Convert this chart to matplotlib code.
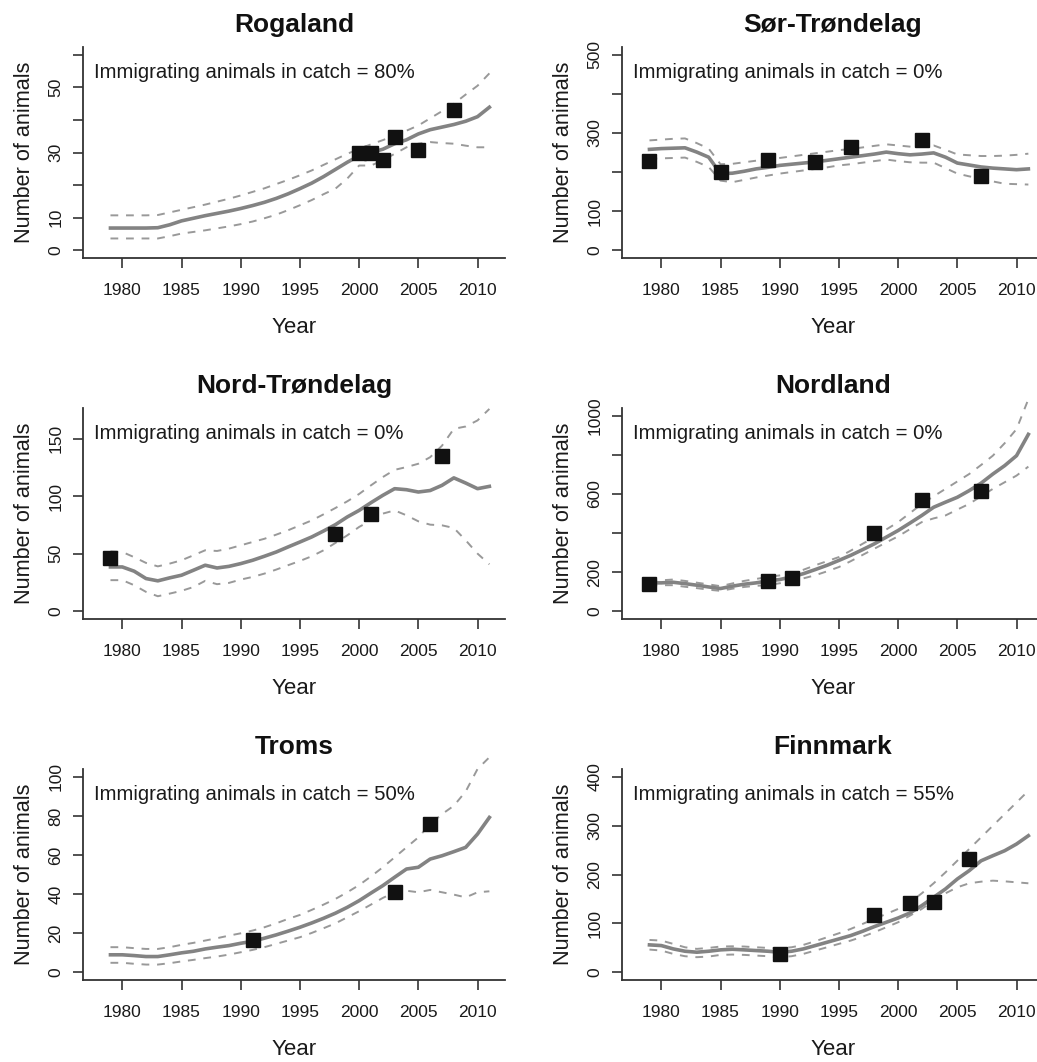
import matplotlib
matplotlib.use("Agg")
import matplotlib.pyplot as plt
import numpy as np

plt.rcParams['font.family'] = ['Liberation Sans', 'DejaVu Sans']

years = list(range(1979, 2012))

# ---------------- Rogaland ----------------
rog_mid = [6.8, 6.8, 6.8, 6.8, 6.9, 7.8, 9.0, 9.8, 10.6, 11.3, 12.0, 12.8, 13.7, 14.7, 15.9, 17.3, 18.9,
           20.6, 22.6, 24.8, 27.0, 29.0, 30.0, 31.0, 32.7, 33.9, 35.7, 37.0, 37.8, 38.6, 39.6, 41.0, 43.9]
rog_lo = [3.6, 3.6, 3.6, 3.6, 3.6, 4.3, 5.1, 5.6, 6.1, 6.7, 7.3, 8.0, 8.8, 9.8, 10.9, 12.3, 13.8,
          15.4, 17.2, 18.9, 22.0, 26.0, 26.0, 27.6, 29.6, 31.6, 32.7, 33.2, 32.9, 32.7, 32.1, 31.6, 31.6]
rog_hi = [10.7, 10.7, 10.7, 10.7, 10.8, 11.6, 12.4, 13.2, 14.0, 14.9, 15.8, 16.8, 17.9, 19.0, 20.3, 21.6, 23.0,
          24.5, 26.2, 27.9, 29.6, 31.1, 32.5, 33.8, 35.2, 36.7, 38.3, 40.5, 42.7, 45.0, 47.8, 50.5, 54.3]
rog_obs_years = [2000, 2001, 2002, 2003, 2005, 2008]
rog_obs = [30.0, 30.0, 27.8, 34.9, 30.8, 43.0]

# ---------------- Sør-Trøndelag ----------------
sor_mid = [258, 260, 261, 262, 251, 238, 196, 197, 202, 208, 212, 217, 220, 223, 226, 230, 234,
           238, 242, 246, 251, 247, 244, 246, 249, 238, 223, 218, 213, 210, 208, 206, 208]
sor_lo = [234, 235, 236, 237, 226, 213, 178, 174, 180, 186, 191, 196, 200, 204, 208, 212, 217,
          220, 224, 228, 232, 228, 225, 224, 224, 210, 196, 189, 183, 176, 170, 169, 168]
sor_hi = [281, 283, 285, 286, 274, 260, 220, 221, 225, 229, 232, 236, 240, 244, 248, 252, 256,
          259, 263, 267, 271, 268, 265, 264, 268, 257, 245, 243, 241, 241, 242, 244, 247]
sor_obs_years = [1979, 1985, 1989, 1993, 1996, 2002, 2007]
sor_obs = [227, 200, 230, 226, 264, 283, 190]

# ---------------- Nord-Trøndelag ----------------
nt_mid = [38.5, 38.5, 34.8, 28.4, 26.4, 29.0, 31.3, 35.6, 40.0, 37.6, 39.0, 41.4, 44.3, 47.8, 51.5, 55.9, 60.2,
          64.6, 69.8, 75.3, 82.0, 87.7, 94.4, 100.8, 106.6, 105.7, 103.7, 105.0, 109.5, 116.0, 111.5, 106.6, 108.6]
nt_lo = [27.0, 27.0, 22.6, 16.8, 13.0, 15.3, 17.7, 21.0, 26.4, 23.5, 24.6, 27.5, 29.8, 32.7, 36.2, 40.0, 43.7,
         47.8, 53.0, 59.4, 66.0, 73.3, 79.0, 84.9, 87.7, 83.4, 78.2, 75.3, 74.7, 72.4, 61.7, 50.1, 40.8]
nt_hi = [52.0, 51.5, 47.0, 42.0, 39.0, 41.4, 44.3, 48.6, 53.0, 52.4, 54.4, 57.3, 60.2, 63.0, 66.6, 70.4, 74.7,
         79.0, 84.3, 89.8, 95.6, 102.0, 109.5, 116.7, 123.0, 125.4, 128.3, 134.0, 144.0, 158.7, 160.7, 166.0, 176.0]
nt_obs_years = [1979, 1998, 2001, 2007]
nt_obs = [46.6, 66.9, 84.3, 134.7]

# ---------------- Nordland ----------------
nl_mid = [145, 145, 148, 141, 133, 124, 116, 128, 138, 145, 155, 162, 175, 192, 213, 235, 260,
          286, 315, 345, 379, 413, 451, 490, 532, 558, 583, 617, 655, 702, 745, 796, 905]
nl_lo = [133, 133, 133, 125, 118, 110, 104, 115, 124, 130, 133, 143, 155, 168, 184, 204, 226,
         256, 288, 320, 352, 383, 420, 456, 475, 490, 520, 549, 588, 626, 660, 694, 740]
nl_hi = [155, 158, 162, 155, 146, 137, 128, 142, 155, 165, 175, 183, 192, 212, 235, 256, 277,
         310, 345, 379, 418, 456, 502, 549, 588, 626, 664, 702, 748, 796, 860, 932, 1085]
nl_obs_years = [1979, 1989, 1991, 1998, 2002, 2007]
nl_obs = [138, 155, 170, 400, 571, 617]

# ---------------- Troms ----------------
tr_mid = [8.9, 8.9, 8.5, 8.0, 8.0, 8.9, 9.9, 10.7, 11.9, 12.8, 13.6, 14.8, 15.8, 17.4, 19.1, 21.0, 23.0,
          25.2, 27.6, 30.2, 33.2, 36.6, 40.5, 44.3, 48.6, 52.8, 53.7, 57.9, 59.6, 61.7, 63.9, 70.7, 79.2]
tr_lo = [4.8, 4.8, 4.3, 3.9, 3.9, 4.6, 5.5, 6.3, 7.2, 8.0, 9.0, 10.2, 11.4, 12.8, 14.5, 16.2, 17.9,
         20.1, 22.5, 25.0, 28.1, 31.2, 34.6, 38.0, 40.9, 41.7, 40.9, 42.1, 40.9, 39.7, 38.3, 40.9, 41.4]
tr_hi = [12.8, 12.8, 12.3, 11.9, 11.9, 12.8, 14.0, 15.0, 16.2, 17.4, 18.7, 19.9, 21.3, 23.0, 25.0, 27.3, 29.3,
         31.9, 34.6, 37.5, 40.9, 44.6, 49.0, 53.7, 58.8, 63.9, 69.0, 75.8, 80.9, 85.2, 92.5, 104.0, 110.0]
tr_obs_years = [1991, 2003, 2006]
tr_obs = [16.7, 40.9, 75.8]

# ---------------- Finnmark ----------------
fm_mid = [55.9, 54.5, 47.7, 42.9, 40.9, 42.9, 45.7, 47.0, 45.7, 44.3, 42.9, 40.9, 42.9, 47.7, 54.5, 61.3, 68.1,
          75.0, 83.8, 93.4, 102.2, 111.0, 121.3, 136.3, 153.3, 170.4, 190.8, 207.8, 228.0, 238.5, 248.7, 262.4, 279.4]
fm_lo = [46.3, 44.3, 37.5, 32.7, 30.7, 32.0, 35.4, 36.1, 35.4, 34.0, 32.7, 30.7, 32.7, 37.5, 44.3, 51.0, 58.0,
         64.7, 72.9, 81.8, 92.0, 102.2, 115.8, 129.5, 146.5, 161.5, 173.8, 182.0, 185.3, 187.4, 186.0, 184.0, 182.0]
fm_hi = [66.0, 64.7, 58.0, 51.0, 47.7, 49.7, 52.5, 53.0, 52.5, 51.0, 49.7, 49.0, 51.0, 55.9, 63.4, 71.5, 79.7,
         88.6, 98.8, 109.0, 119.3, 129.5, 143.0, 161.5, 182.0, 204.4, 228.3, 252.1, 276.0, 300.0, 323.7, 347.5, 371.4]
fm_obs_years = [1990, 1998, 2001, 2003, 2006]
fm_obs = [37.5, 117.9, 141.0, 143.0, 231.7]

titles = ["Rogaland", "Sør-Trøndelag", "Nord-Trøndelag", "Nordland", "Troms", "Finnmark"]
immig = ["80%", "0%", "0%", "0%", "50%", "55%"]
ylims = [(0, 60), (0, 500), (0, 170), (0, 1000), (0, 100), (0, 400)]
yticks = [[0, 10, 20, 30, 40, 50, 60], [0, 100, 200, 300, 400, 500], [0, 50, 100, 150],
          [0, 200, 400, 600, 800, 1000], [0, 20, 40, 60, 80, 100], [0, 100, 200, 300, 400]]
ylabels_shown = [["0", "10", "", "30", "", "50", ""], ["0", "100", "", "300", "", "500"],
                 ["0", "50", "100", "150"], ["0", "200", "", "600", "", "1000"],
                 ["0", "20", "40", "60", "80", "100"], ["0", "100", "200", "300", "400"]]
xticks = [1980, 1985, 1990, 1995, 2000, 2005, 2010]
xlim = (1978, 2011)

series = [
    (rog_mid, rog_lo, rog_hi, rog_obs_years, rog_obs),
    (sor_mid, sor_lo, sor_hi, sor_obs_years, sor_obs),
    (nt_mid, nt_lo, nt_hi, nt_obs_years, nt_obs),
    (nl_mid, nl_lo, nl_hi, nl_obs_years, nl_obs),
    (tr_mid, tr_lo, tr_hi, tr_obs_years, tr_obs),
    (fm_mid, fm_lo, fm_hi, fm_obs_years, fm_obs),
]

W, H = 1037, 1062
fig = plt.figure(figsize=(W / 100, H / 100), dpi=100)

col_x = [83, 622]
row_bottom = [258, 619, 980]
ax_w, ax_h = 422, 211

for i in range(6):
    r, c = divmod(i, 2)
    left = col_x[c] / W
    bottom = 1 - row_bottom[r] / H
    ax = fig.add_axes([left, bottom, ax_w / W, ax_h / H])
    mid, lo, hi, oy, ov = series[i]
    ax.plot(years, lo, color="#999999", lw=1.4, ls=(0, (4, 4)), clip_on=False, zorder=2)
    ax.plot(years, hi, color="#999999", lw=1.4, ls=(0, (4, 4)), clip_on=False, zorder=2)
    ax.plot(years, mid, color="#838383", lw=2.6, clip_on=False, zorder=3)
    ax.plot(oy, ov, ls="none", marker="s", ms=9.5, color="#111111", zorder=4, clip_on=False)

    y0, y1 = ylims[i]
    ext = (y1 - y0) * 0.04
    ax.set_ylim(y0 - ext, y1 + ext)
    xe = (xlim[1] - xlim[0]) * 0.04
    ax.set_xlim(xlim[0] - xe, xlim[1] + xe)

    for s in ["top", "right"]:
        ax.spines[s].set_visible(False)
    for s in ["left", "bottom"]:
        ax.spines[s].set_linewidth(1.3)
        ax.spines[s].set_color("#333333")

    ax.set_xticks(xticks)
    ax.set_xticklabels([str(x) for x in xticks], fontsize=12.5)
    ax.set_yticks(yticks[i])
    ax.set_yticklabels(ylabels_shown[i], fontsize=12.5, rotation=90, va="center")
    ax.tick_params(axis="both", length=7, width=1.2, color="#333333", labelcolor="#1a1a1a")
    ax.tick_params(axis="x", pad=11)
    ax.tick_params(axis="y", pad=7)

    ax.set_xlabel("Year", fontsize=16, labelpad=14, color="#1a1a1a")
    ax.set_ylabel("Number of animals", fontsize=15.6, labelpad=10, color="#1a1a1a")
    ax.set_title(titles[i], fontsize=19, fontweight="bold", pad=11, color="#111111")
    ax.text(0.025, 0.88, "Immigrating animals in catch = " + immig[i], transform=ax.transAxes,
            fontsize=14.6, va="center", ha="left", color="#1a1a1a")

fig.savefig("out.png", dpi=100)
